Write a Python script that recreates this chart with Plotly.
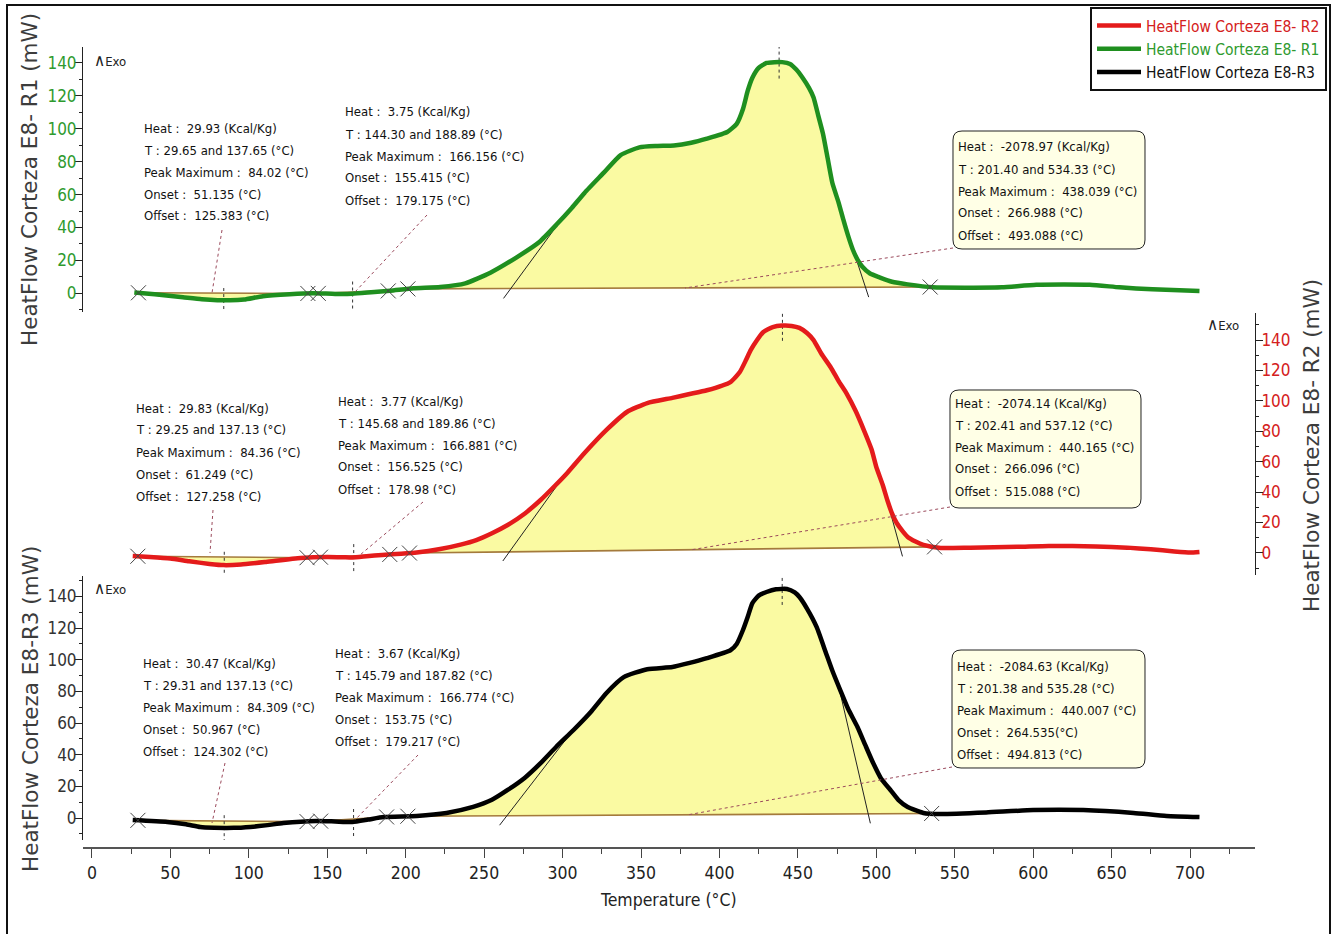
import numpy as np
import plotly.graph_objects as go

# ---------------- data ----------------
T_R1 = [27, 40, 58, 70, 80, 88, 97, 109, 126, 141, 155, 166, 178, 190, 205, 222, 238, 254, 271, 285,
        296, 306, 314, 326, 337, 349, 360, 371, 382, 392, 405, 411, 415, 418, 421, 425, 430, 435, 440,
        445, 449, 453, 457, 460, 463, 466, 469, 472, 476, 479, 482, 485, 488, 491, 496, 502, 510, 520,
        536, 562, 580, 602, 636, 655, 676, 706]
Y_R1 = [0.5, -0.6, -2.4, -3.6, -4.2, -4.3, -3.8, -1.8, -0.6, 0, -0.4, -0.3, 0.6, 1.5, 3, 3.8, 6, 12.5,
        22, 31, 41.6, 52, 61, 73, 84, 88.7, 89.5, 89.8, 91.5, 94, 98, 103, 112, 123, 131, 137, 140,
        140.5, 140.5, 139.4, 136, 131, 125, 119, 108, 97, 82, 67, 55, 44.7, 35, 26.6, 20.5, 16.3, 12,
        9.7, 7, 5.4, 3.6, 3.4, 3.6, 5.2, 5.2, 3.6, 2.4, 1.3]

T_R2 = [26, 37, 50, 62, 75, 84, 95, 111, 133, 150, 160, 166, 175, 185, 197, 207, 222, 235, 245, 255,
        265, 276, 286, 295, 303, 314, 328, 341, 354, 370, 381, 392, 407, 413, 417, 420, 424, 428, 434,
        440, 446, 451, 456, 460, 465, 471, 476, 481, 487, 492, 497, 500, 504, 507, 510, 513, 517, 520,
        525, 530, 541, 560, 590, 610, 640, 660, 675, 690, 700, 706]
Y_R2 = [-2, -2.6, -3.6, -5.5, -7.2, -8, -7.6, -5.9, -3.3, -2.6, -2.8, -3, -2.2, -1.3, -0.5, 0.3, 2.6,
        5.5, 8.5, 13, 18.4, 26, 34.8, 44, 52.6, 65.7, 80.9, 92.7, 98.6, 102, 104.5, 107, 112.4, 119,
        127, 133.5, 140, 145.3, 148.5, 149.5, 149.3, 148, 144.5, 140, 131, 122, 113, 105, 93, 81, 68,
        56.5, 45, 34.8, 26, 19.7, 14, 10.5, 7.5, 5.3, 3.3, 3.5, 4, 4.6, 4.3, 3.5, 2.4, 1, 0.3, 0.7]

T_R3 = [26, 48, 60, 69, 78, 86, 95, 101, 112, 122, 143, 155, 166, 176, 186, 207, 226, 243, 255, 265,
        276, 286, 296, 307, 318, 328, 339, 354, 370, 381, 392, 407, 411, 415, 418, 421, 425, 430, 436,
        443, 448, 451, 456, 462, 468, 472, 477, 482, 488, 493, 498, 503, 509, 514, 520, 530, 541, 570,
        600, 632, 664, 685, 706]
Y_R3 = [-1.3, -2.5, -4, -5.7, -6.2, -6.3, -6.1, -5.7, -4.5, -3.2, -1.9, -2.2, -2.5, -1, 0.6, 1.3, 3.2,
        7, 11.5, 17.7, 25.5, 34.7, 45, 55.6, 67, 79, 89, 94, 95.4, 98, 101, 106, 110, 118.8, 127,
        135.8, 140.5, 142.8, 144.5, 144.7, 142.5, 139.6, 132, 120.6, 104, 93, 80.8, 69, 57.5, 46,
        34.7, 25, 17.7, 11.5, 7, 3.2, 2.5, 3.5, 5, 5, 3.2, 1.3, 0.6]

# integration limits, peak maxima, onset/offset of the large peak, inflection temperatures
LIM_R1 = [(29.65, 137.65), (144.30, 188.89), (201.40, 534.33)]
LIM_R2 = [(29.25, 137.13), (145.68, 189.86), (202.41, 537.12)]
LIM_R3 = [(29.31, 137.13), (145.79, 187.82), (201.38, 535.28)]
PK_R1 = [84.02, 166.156, 438.039]
PK_R2 = [84.36, 166.881, 440.165]
PK_R3 = [84.309, 166.774, 440.007]
ONOFF_R1 = (266.988, 493.088)
ONOFF_R2 = (266.096, 515.088)
ONOFF_R3 = (264.535, 494.813)
INFL_R1 = (300, 479)
INFL_R2 = (300, 505)
INFL_R3 = (306, 476)

TXT_R1 = [
    ["Heat :  29.93 (Kcal/Kg)", "T : 29.65 and 137.65 (°C)", "Peak Maximum :  84.02 (°C)",
     "Onset :  51.135 (°C)", "Offset :  125.383 (°C)"],
    ["Heat :  3.75 (Kcal/Kg)", "T : 144.30 and 188.89 (°C)", "Peak Maximum :  166.156 (°C)",
     "Onset :  155.415 (°C)", "Offset :  179.175 (°C)"],
    ["Heat :  -2078.97 (Kcal/Kg)", "T : 201.40 and 534.33 (°C)", "Peak Maximum :  438.039 (°C)",
     "Onset :  266.988 (°C)", "Offset :  493.088 (°C)"],
]
TXT_R2 = [
    ["Heat :  29.83 (Kcal/Kg)", "T : 29.25 and 137.13 (°C)", "Peak Maximum :  84.36 (°C)",
     "Onset :  61.249 (°C)", "Offset :  127.258 (°C)"],
    ["Heat :  3.77 (Kcal/Kg)", "T : 145.68 and 189.86 (°C)", "Peak Maximum :  166.881 (°C)",
     "Onset :  156.525 (°C)", "Offset :  178.98 (°C)"],
    ["Heat :  -2074.14 (Kcal/Kg)", "T : 202.41 and 537.12 (°C)", "Peak Maximum :  440.165 (°C)",
     "Onset :  266.096 (°C)", "Offset :  515.088 (°C)"],
]
TXT_R3 = [
    ["Heat :  30.47 (Kcal/Kg)", "T : 29.31 and 137.13 (°C)", "Peak Maximum :  84.309 (°C)",
     "Onset :  50.967 (°C)", "Offset :  124.302 (°C)"],
    ["Heat :  3.67 (Kcal/Kg)", "T : 145.79 and 187.82 (°C)", "Peak Maximum :  166.774 (°C)",
     "Onset :  153.75 (°C)", "Offset :  179.217 (°C)"],
    ["Heat :  -2084.63 (Kcal/Kg)", "T : 201.38 and 535.28 (°C)", "Peak Maximum :  440.007 (°C)",
     "Onset :  264.535(°C)", "Offset :  494.813 (°C)"],
]

NAMES = ["HeatFlow Corteza E8- R1", "HeatFlow Corteza E8- R2", "HeatFlow Corteza E8-R3"]
YTITLES = ["HeatFlow Corteza E8- R1 (mW)", "HeatFlow Corteza E8- R2 (mW)", "HeatFlow Corteza E8-R3 (mW)"]
X_TICKS = list(range(0, 701, 50))
Y_TICKS = list(range(0, 141, 20))

# ---------------- layout helpers ----------------
W, H = 1334, 934
ML, MR, MT, MB = 83, 79, 47, 86
PW, PH = W - ML - MR, H - MT - MB


def px(x):
    return (x - ML) / PW


def py(y):
    return (H - MB - y) / PH


NARROW = "DejaVu Sans Condensed, Liberation Sans Narrow, sans-serif"
GREEN, RED, BLACK = "#1f8f1f", "#e41b1b", "#000000"
FILL = "#fafaa2"
BASE = "#a47a3c"
DOT = "#9b4a5c"

series = [
    dict(T=T_R1, Y=Y_R1, lim=LIM_R1, pk=PK_R1, oo=ONOFF_R1, infl=INFL_R1, txt=TXT_R1,
         color=GREEN, tick="#2e9a2e", ax="y", rank=2, name=NAMES[0]),
    dict(T=T_R2, Y=Y_R2, lim=LIM_R2, pk=PK_R2, oo=ONOFF_R2, infl=INFL_R2, txt=TXT_R2,
         color=RED, tick="#d42020", ax="y2", rank=1, name=NAMES[1]),
    dict(T=T_R3, Y=Y_R3, lim=LIM_R3, pk=PK_R3, oo=ONOFF_R3, infl=INFL_R3, txt=TXT_R3,
         color=BLACK, tick="#111111", ax="y3", rank=3, name=NAMES[2]),
]

fig = go.Figure()

for s in series:
    T, Y = np.array(s["T"], float), np.array(s["Y"], float)
    f = lambda t: np.interp(t, T, Y)
    # filled peak areas and baselines
    for (a, b) in s["lim"]:
        ts = np.linspace(a, b, 300)
        yc = f(ts)
        base = yc[0] + (yc[-1] - yc[0]) * (ts - a) / (b - a)
        fig.add_trace(go.Scatter(x=np.concatenate([ts, ts[::-1]]), y=np.concatenate([yc, base[::-1]]),
                                 fill="toself", fillcolor=FILL, mode="none", yaxis=s["ax"],
                                 showlegend=False, hoverinfo="skip"))
        fig.add_trace(go.Scatter(x=[a, b], y=[yc[0], yc[-1]], mode="lines", yaxis=s["ax"],
                                 line=dict(color=BASE, width=1.6), showlegend=False, hoverinfo="skip"))
    # tangent lines of the large peak
    a, b = s["lim"][2]
    ya, yb = f(a), f(b)
    base_at = lambda t: ya + (yb - ya) * (t - a) / (b - a)
    for (t0, ti) in [(s["oo"][0], s["infl"][0]), (s["oo"][1], s["infl"][1])]:
        y0, yi = base_at(t0), f(ti)
        slope = (yi - y0) / (ti - t0)
        tb = t0 - 6 / slope if slope > 0 else t0 + 6 / abs(slope)
        fig.add_trace(go.Scatter(x=[tb, ti], y=[y0 - 6, yi], mode="lines", yaxis=s["ax"],
                                 line=dict(color="#222222", width=1), showlegend=False, hoverinfo="skip"))
    # peak maximum markers (vertical dotted)
    for i, tp in enumerate(s["pk"]):
        yp = f(tp)
        lo, hi = (yp - 9, yp + 9) if i < 2 else (yp - 10, yp + 12)
        fig.add_trace(go.Scatter(x=[tp, tp], y=[lo, hi], mode="lines", yaxis=s["ax"],
                                 line=dict(color="#333333", width=1, dash="dot"),
                                 showlegend=False, hoverinfo="skip"))

# curves on top
for s in series:
    fig.add_trace(go.Scatter(x=s["T"], y=s["Y"], mode="lines", yaxis=s["ax"],
                             line=dict(color=s["color"], width=4.5, shape="spline", smoothing=0.5),
                             name="<span style='color:%s'>%s</span>" % (s["tick"], s["name"]),
                             legendrank=s["rank"], legendgroup=s["name"]))
    lims = sorted(set([v for pair in s["lim"] for v in pair]))
    fig.add_trace(go.Scatter(x=lims, y=np.interp(lims, s["T"], s["Y"]), mode="markers", yaxis=s["ax"],
                             marker=dict(symbol="x-thin", size=15, line=dict(color="#444444", width=1)),
                             showlegend=False, hoverinfo="skip"))

# ---------------- annotations ----------------
ann = []
shapes = []
TEXT_POS = [
    [(142, 128), (343, 112), (956, 147)],
    [(134, 408), (336, 401), (953, 403)],
    [(141, 663), (333, 653), (955, 666)],
]
BOXES = [(953, 131, 1145, 249), (950, 390, 1141, 508), (952, 650, 1145, 768)]
CONNECT = [
    [((222, 230), (212, 293)), ((427, 215), (355, 292)), ((953, 248), (685, 288))],
    [((213, 510), (210, 553)), ((423, 502), (360, 555)), ((950, 507), (690, 550))],
    [((225, 763), (212, 823)), ((418, 755), (355, 820)), ((952, 767), (687, 815))],
]


def rounded(x0, y0, x1, y1, r):
    P = lambda x, y: "%.5f,%.5f" % (px(x), py(y))
    return ("M%s L%s Q%s %s L%s Q%s %s L%s Q%s %s L%s Q%s %s Z" % (
        P(x0 + r, y0), P(x1 - r, y0), P(x1, y0), P(x1, y0 + r), P(x1, y1 - r), P(x1, y1), P(x1 - r, y1),
        P(x0 + r, y1), P(x0, y1), P(x0, y1 - r), P(x0, y0 + r), P(x0, y0), P(x0 + r, y0)))


for k, s in enumerate(series):
    for j, lines in enumerate(s["txt"]):
        x0, y0 = TEXT_POS[k][j]
        for i, line in enumerate(lines):
            ann.append(dict(x=px(x0), y=py(y0 + 22 * i), xref="paper", yref="paper",
                            text=line.replace("  ", " \u00a0"),
                            showarrow=False, xanchor="left", yanchor="middle",
                            font=dict(family=NARROW, size=13, color="#111111")))
        (ax0, ay0), (ax1, ay1) = CONNECT[k][j]
        shapes.append(dict(type="line", xref="paper", yref="paper", x0=px(ax0), y0=py(ay0), x1=px(ax1), y1=py(ay1),
                           line=dict(color=DOT, width=1, dash="dot")))
    bx0, by0, bx1, by1 = BOXES[k]
    shapes.append(dict(type="path", xref="paper", yref="paper", path=rounded(bx0, by0, bx1, by1, 9),
                       fillcolor="#ffffe6", line=dict(color="#222222", width=1), layer="above"))

# Exo labels
for (x, y) in [(92, 60), (1205, 324), (92, 588)]:
    ann.append(dict(x=px(x), y=py(y), xref="paper", yref="paper",
                    text="<span style='font-size:17px'>∧</span>Exo", showarrow=False,
                    xanchor="left", yanchor="middle", font=dict(family=NARROW, size=13, color="#222222")))

# y axis titles
for (x, y), t in zip([(30, 180), (1311, 446), (30, 709)], YTITLES):
    ann.append(dict(x=px(x), y=py(y), xref="paper", yref="paper", text=t, textangle=-90, showarrow=False,
                    xanchor="center", yanchor="middle", font=dict(family="DejaVu Sans, sans-serif", size=21.5,
                                                                  color="#3c3c3c")))
# x axis title
ann.append(dict(x=px(668), y=py(900), xref="paper", yref="paper", text="Temperature (°C)", showarrow=False,
                xanchor="center", yanchor="middle", font=dict(family=NARROW, size=17.5, color="#222222")))

# outer frame
shapes.append(dict(type="rect", xref="paper", yref="paper", x0=px(7), y0=py(5), x1=px(1330), y1=py(950),
                   line=dict(color="#111111", width=2), layer="below"))

yax_common = dict(tickvals=Y_TICKS, ticks="outside", ticklen=7, tickcolor="#222", showline=True,
                  linecolor="#222", linewidth=1, showgrid=False, zeroline=False, ticklabelstandoff=-5,
                  automargin=False,
                  minor=dict(dtick=10, ticklen=3, tickcolor="#222", ticks="outside", showgrid=False),
                  anchor="x")

fig.update_layout(
    width=W, height=H, margin=dict(l=ML, r=MR, t=MT, b=MB, autoexpand=False),
    paper_bgcolor="white", plot_bgcolor="white",
    xaxis=dict(range=[-5.7, 741.4], tickvals=X_TICKS, ticks="outside", ticklen=9, tickcolor="#444",
               showline=True, linecolor="#555", linewidth=2, showgrid=False, zeroline=False,
               anchor="free", position=0, automargin=False,
               tickfont=dict(family=NARROW, size=17.5, color="#222"),
               minor=dict(dtick=25, ticklen=5, tickcolor="#444", ticks="outside", showgrid=False)),
    yaxis=dict(domain=[py(312), py(47)], range=[-11.4, 149.7], side="left",
               tickfont=dict(family=NARROW, size=17, color="#2e9a2e"), **yax_common),
    yaxis2=dict(domain=[py(575), py(313)], range=[-14.5, 157.8], side="right",
                tickfont=dict(family=NARROW, size=17, color="#d42020"), **yax_common),
    yaxis3=dict(domain=[py(840), py(576)], range=[-13.9, 152.9], side="left",
                tickfont=dict(family=NARROW, size=17, color="#333333"), **yax_common),
    legend=dict(xref="container", yref="container", x=1327 / W, y=1 - 7 / H,
                xanchor="right", yanchor="top", bgcolor="white",
                bordercolor="#111", borderwidth=2, font=dict(family=NARROW, size=15.5),
                tracegroupgap=0, itemwidth=44),
    annotations=ann, shapes=shapes, showlegend=True,
)

fig.write_html("out.html")
